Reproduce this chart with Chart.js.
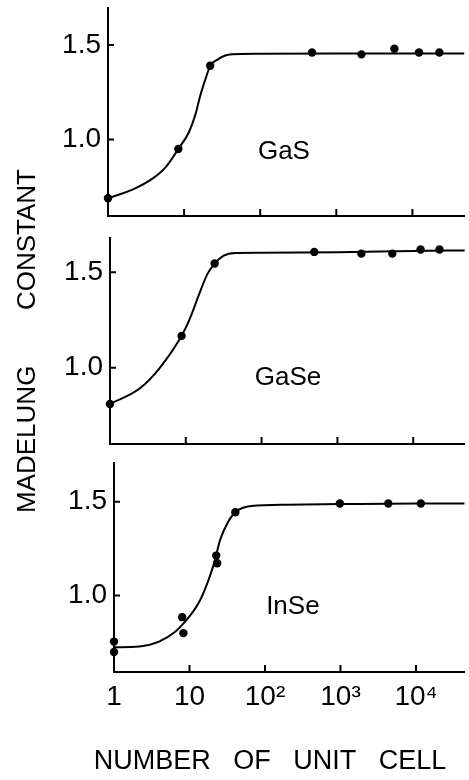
<!DOCTYPE html>
<html><head><meta charset="utf-8">
<script src="https://cdn.jsdelivr.net/npm/chart.js@4"></script>
<style>
html,body{margin:0;padding:0;background:#fff;}
#wrap{position:relative;width:469px;height:780px;overflow:hidden;background:#fff;}
canvas{position:absolute;left:0;top:0;}
</style></head><body>
<div id="wrap">
<canvas id="c1" width="469" height="780"></canvas>
<canvas id="c2" width="469" height="780"></canvas>
<canvas id="c3" width="469" height="780"></canvas>
</div>
<script>
// ---- data ----
const xTickValues = [1, 10, 100, 1000, 10000];
const xTickLabels = ['1', '10', '10²', '10³', '10⁴'];
const yTickValues = [1.0, 1.5];
const panelNames = ['GaS', 'GaSe', 'InSe'];
const yAxisWords = ['MADELUNG', 'CONSTANT'];
const xAxisTitle = 'NUMBER OF UNIT CELL';

// GaS
const gasPointX = [1, 8.4, 22, 480, 2140, 5800, 12200, 22600];
const gasPointY = [0.69, 0.95, 1.39, 1.46, 1.45, 1.48, 1.46, 1.46];
const gasCurveX = [1, 2.13, 3.88, 5.78, 8.4, 11.6, 14.2, 16.1, 20.1, 22, 27.1, 34.8, 42.4, 100, 1000, 10000, 48000];
const gasCurveY = [0.69, 0.737, 0.795, 0.856, 0.95, 1.04, 1.137, 1.224, 1.347, 1.39, 1.421, 1.444, 1.45, 1.453, 1.455, 1.455, 1.455];

// GaSe
const gasePointX = [1, 8.8, 24, 495, 2070, 5300, 12500, 22200];
const gasePointY = [0.81, 1.167, 1.546, 1.607, 1.598, 1.598, 1.62, 1.62];
const gaseCurveX = [1, 2.46, 4.49, 8.8, 11.6, 14.9, 19.1, 24, 31.6, 44.9, 100, 1000, 10000, 48000];
const gaseCurveY = [0.81, 0.891, 0.997, 1.167, 1.268, 1.383, 1.488, 1.546, 1.588, 1.602, 1.603, 1.605, 1.612, 1.615];

// InSe
const insePointX = [1, 1, 8.0, 8.3, 22.6, 23.3, 40.5, 980, 4300, 11600];
const insePointY = [0.755, 0.70, 0.885, 0.80, 1.213, 1.172, 1.444, 1.49, 1.49, 1.49];
const inseCurveX = [1, 2.16, 3.95, 6.53, 8.39, 13.2, 17.9, 21.8, 25.4, 32.7, 41.1, 65.9, 200, 1000, 10000, 44000];
const inseCurveY = [0.725, 0.729, 0.755, 0.809, 0.853, 0.96, 1.084, 1.19, 1.296, 1.394, 1.447, 1.477, 1.484, 1.487, 1.49, 1.49];

// ---- drawing ----
const FONT = "'Liberation Sans', Arial, sans-serif";
const INK = '#000';

const innerTicks = {
  id: 'innerTicks',
  afterDraw(chart) {
    const {ctx, chartArea: a, scales: {x, y}} = chart;
    ctx.save();
    ctx.strokeStyle = INK; ctx.lineWidth = 2;
    ctx.beginPath();
    xTickValues.forEach(v => {
      if (v === x.min) return;
      const px = x.getPixelForValue(v);
      ctx.moveTo(px, a.bottom); ctx.lineTo(px, a.bottom - 7);
    });
    yTickValues.forEach(v => {
      const py = y.getPixelForValue(v);
      ctx.moveTo(a.left, py); ctx.lineTo(a.left + 6, py);
    });
    ctx.stroke();
    ctx.restore();
  }
};

const panelLabel = {
  id: 'panelLabel',
  afterDraw(chart, args, opts) {
    if (!opts || !opts.text) return;
    const {ctx, scales: {x, y}} = chart;
    ctx.save();
    ctx.fillStyle = INK;
    ctx.font = `26px ${FONT}`;
    ctx.textAlign = 'center'; ctx.textBaseline = 'middle';
    ctx.fillText(opts.text, x.getPixelForValue(opts.x), y.getPixelForValue(opts.y));
    ctx.restore();
  }
};

const axisTitles = {
  id: 'axisTitles',
  afterDraw(chart, args, opts) {
    if (!opts || !opts.show) return;
    const ctx = chart.ctx;
    ctx.save();
    ctx.fillStyle = INK;
    ctx.font = `26px ${FONT}`;
    // y title, rotated, reading bottom-to-top
    ctx.translate(28, 341);
    ctx.rotate(-Math.PI / 2);
    ctx.textBaseline = 'middle';
    ctx.textAlign = 'left';
    ctx.fillText(yAxisWords[0], -172, 0);
    ctx.textAlign = 'right';
    ctx.fillText(yAxisWords[1], 172, 0);
    ctx.restore();
    ctx.save();
    ctx.fillStyle = INK;
    ctx.font = `27px ${FONT}`;
    ctx.textAlign = 'center'; ctx.textBaseline = 'middle';
    ctx.fillText(xAxisTitle.split(' ').join('   '), 270, 762);
    ctx.restore();
  }
};

function pts(xs, ys) { return xs.map((x, i) => ({x, y: ys[i]})); }

function makeChart(id, cfg) {
  return new Chart(document.getElementById(id), {
    data: {
      datasets: [
        { type: 'line', data: pts(cfg.curveX, cfg.curveY), borderColor: INK, borderWidth: 2,
          pointRadius: 0, cubicInterpolationMode: 'monotone', fill: false, order: 2 },
        { type: 'scatter', data: pts(cfg.pointX, cfg.pointY), backgroundColor: INK, borderColor: INK,
          pointRadius: 4.2, borderWidth: 0, clip: false, order: 1 }
      ]
    },
    options: {
      responsive: false, animation: false, devicePixelRatio: 1,
      events: [],
      layout: { padding: { top: cfg.top, bottom: cfg.bottomPad, left: 0, right: 0 } },
      plugins: {
        legend: { display: false }, tooltip: { enabled: false },
        panelLabel: cfg.label,
        axisTitles: { show: !!cfg.titles }
      },
      scales: {
        x: {
          type: 'logarithmic', min: 1, max: cfg.xMax,
          afterBuildTicks: s => { s.ticks = xTickValues.map(v => ({value: v})); },
          ticks: { display: !!cfg.showX, autoSkip: false, maxRotation: 0, padding: 8, color: INK,
                   font: { family: FONT, size: 28 },
                   callback: v => xTickLabels[xTickValues.indexOf(v)] },
          grid: { display: false, drawTicks: false },
          border: { display: true, color: INK, width: 2 },
          afterFit: s => { s.height = cfg.xH; s.paddingLeft = 0; s.paddingRight = 0; }
        },
        y: {
          type: 'linear', min: cfg.yMin, max: cfg.yMax,
          afterBuildTicks: s => { s.ticks = yTickValues.map(v => ({value: v})); },
          ticks: { padding: 7, color: INK, font: { family: FONT, size: 28 },
                   callback: v => Number(v).toFixed(1) },
          grid: { display: false, drawTicks: false },
          border: { display: true, color: INK, width: 2 },
          afterFit: s => { s.width = cfg.left; s.paddingTop = 0; s.paddingBottom = 0; }
        }
      }
    },
    plugins: [innerTicks, panelLabel, axisTitles]
  });
}

makeChart('c1', {
  curveX: gasCurveX, curveY: gasCurveY, pointX: gasPointX, pointY: gasPointY,
  top: 8, bottomPad: 780 - 216, xH: 0, left: 108, xMax: 48800, yMin: 0.596, yMax: 1.695,
  label: { text: panelNames[0], x: 205, y: 0.933 }
});
makeChart('c2', {
  curveX: gaseCurveX, curveY: gaseCurveY, pointX: gasePointX, pointY: gasePointY,
  top: 238, bottomPad: 780 - 444, xH: 0, left: 110, xMax: 47900, yMin: 0.60, yMax: 1.68,
  label: { text: panelNames[1], x: 223, y: 0.946 }
});
makeChart('c3', {
  curveX: inseCurveX, curveY: inseCurveY, pointX: insePointX, pointY: insePointY,
  top: 463, bottomPad: 780 - 672 - 50, xH: 50, left: 114, xMax: 44300, yMin: 0.593, yMax: 1.706,
  showX: true, titles: true,
  label: { text: panelNames[2], x: 234, y: 0.94 }
});
</script>
</body></html>
